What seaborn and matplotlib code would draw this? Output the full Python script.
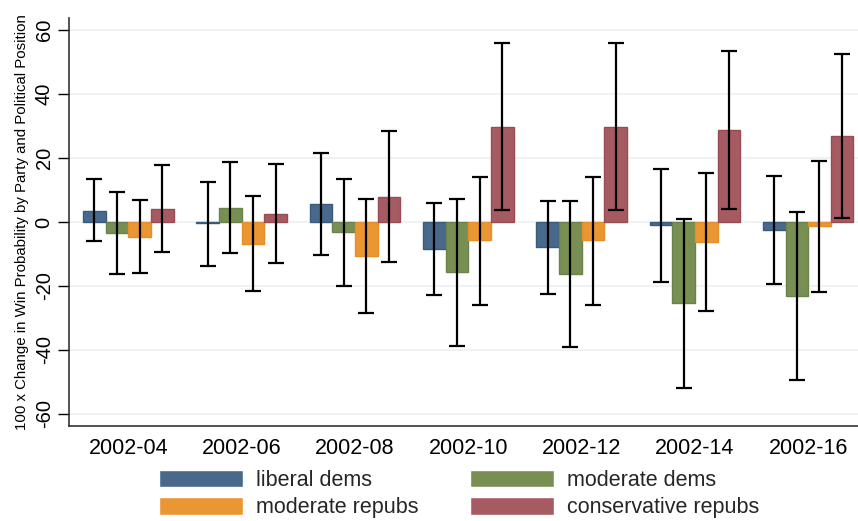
'''
Grouped bar chart of win probability changes by party and political position
'''

import pandas as pd
import seaborn as sns
import matplotlib.pyplot as plt

periods = ['2002-04', '2002-06', '2002-08', '2002-10', '2002-12', '2002-14', '2002-16']
groups = ['liberal dems', 'moderate dems', 'moderate repubs', 'conservative repubs']

liberal_dems = [3.5, -0.3, 5.6, -8.3, -7.8, -0.8, -2.4]
liberal_dems_lo = [-6.0, -13.6, -10.2, -22.9, -22.4, -18.7, -19.5]
liberal_dems_hi = [13.4, 12.5, 21.6, 6.0, 6.5, 16.5, 14.4]

moderate_dems = [-3.3, 4.4, -3.2, -15.6, -16.1, -25.3, -23.0]
moderate_dems_lo = [-16.3, -9.8, -20.0, -38.6, -39.2, -51.8, -49.3]
moderate_dems_hi = [9.3, 18.6, 13.4, 7.2, 6.7, 1.0, 3.1]

moderate_repubs = [-4.6, -6.8, -10.6, -5.7, -5.7, -6.1, -1.4]
moderate_repubs_lo = [-16.0, -21.7, -28.4, -25.9, -25.9, -27.7, -21.8]
moderate_repubs_hi = [6.9, 8.1, 7.1, 14.2, 14.1, 15.2, 19.0]

conservative_repubs = [4.1, 2.6, 7.8, 29.8, 29.8, 28.6, 26.8]
conservative_repubs_lo = [-9.4, -12.8, -12.5, 3.6, 3.6, 4.2, 1.2]
conservative_repubs_hi = [17.9, 18.1, 28.3, 56.0, 56.0, 53.4, 52.6]

colors = ['#48698c', '#778f53', '#ea9633', '#a65b62']
edges = ['#365b7f', '#69834a', '#e58e2c', '#974c54']

values = [liberal_dems, moderate_dems, moderate_repubs, conservative_repubs]
lows = [liberal_dems_lo, moderate_dems_lo, moderate_repubs_lo, conservative_repubs_lo]
highs = [liberal_dems_hi, moderate_dems_hi, moderate_repubs_hi, conservative_repubs_hi]

rows = []
for g, vals in zip(groups, values):
    for p, v in zip(periods, vals):
        rows.append({'period': p, 'group': g, 'change': v})
df = pd.DataFrame(rows)

sns.set_style('white')
plt.rcParams['font.family'] = ['Liberation Sans', 'DejaVu Sans']
plt.rcParams['axes.unicode_minus'] = False

fig = plt.figure(figsize=(8.58, 5.21), dpi=100)
ax = fig.add_axes([69 / 858, 95 / 521, 1 - 69 / 858, 408 / 521])

ax = sns.barplot(data=df, x='period', y='change', hue='group', order=periods,
                 hue_order=groups, palette=colors, errorbar=None, width=0.8,
                 saturation=1, linewidth=1, ax=ax, zorder=3)

# edge colours and confidence intervals per group
bar_groups = list(ax.containers)
for i, cont in enumerate(bar_groups):
    xs = []
    for bar in cont:
        bar.set_edgecolor(edges[i])
        xs.append(bar.get_x() + bar.get_width() / 2)
    lo = [v - l for v, l in zip(values[i], lows[i])]
    hi = [h - v for v, h in zip(values[i], highs[i])]
    ax.errorbar(xs, values[i], yerr=[lo, hi], fmt='none', ecolor='black',
                elinewidth=1.6, capsize=5.5, capthick=1.6, zorder=4)

ax.set_ylim(-63.75, 63.75)
ax.set_xlim(-0.525, 6.44)
ax.set_yticks([-60, -40, -20, 0, 20, 40, 60])
ax.grid(axis='y', color='#eaf1f4', linewidth=1.2, zorder=0)
ax.set_axisbelow(True)
ax.tick_params(axis='y', left=True, length=8, width=1, labelsize=14.5, pad=3,
               labelrotation=90, colors='black')
for lab in ax.get_yticklabels():
    lab.set_va('center')
ax.tick_params(axis='x', bottom=False, labelsize=15.5, pad=5, colors='black')
ax.set_xlabel('')
ax.set_ylabel('100 x Change in Win Probability by Party and Political Position',
              fontsize=10.8, labelpad=4, color='black')
for side in ['top', 'right']:
    ax.spines[side].set_visible(False)
for side in ['left', 'bottom']:
    ax.spines[side].set_color('#333333')
    ax.spines[side].set_linewidth(1.2)

handles, labels = ax.get_legend_handles_labels()
ax.get_legend().remove()
# row-wise order: liberal | moderate dems / moderate repubs | conservative
order = [0, 2, 1, 3]
fig.legend([handles[k] for k in order], [labels[k] for k in order], ncol=2,
           loc='center', bbox_to_anchor=(459 / 858, 0.052), frameon=False,
           fontsize=15.5, handlelength=3.9, handleheight=0.9, handletextpad=0.6,
           labelspacing=0.28, columnspacing=2.4)

fig.savefig('out.png', dpi=100)
